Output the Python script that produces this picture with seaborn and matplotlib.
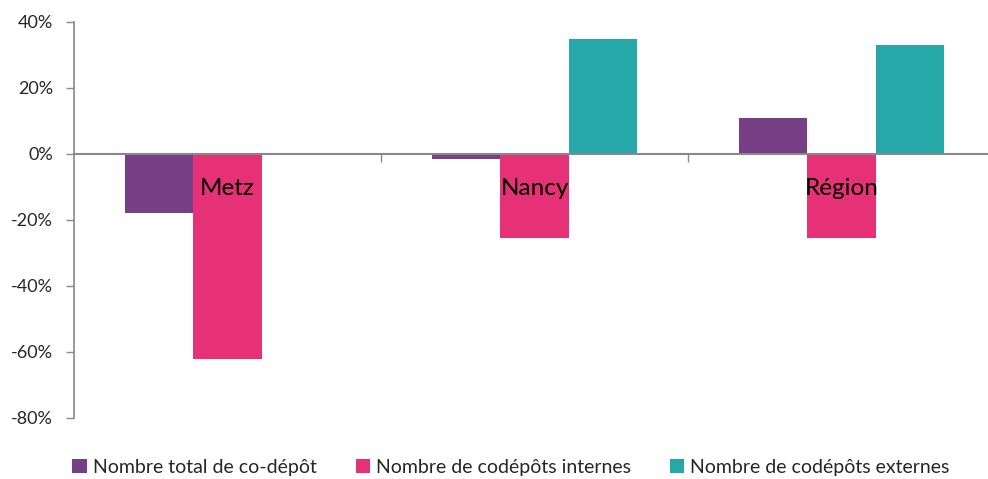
import matplotlib
matplotlib.use("Agg")
import matplotlib.pyplot as plt
import seaborn as sns
import pandas as pd
import numpy as np
from matplotlib.ticker import FuncFormatter, FixedLocator
from matplotlib.patches import Patch

categories = ["Metz", "Nancy", "Région"]
series_names = ["Nombre total de co-dépôt", "Nombre de codépôts internes", "Nombre de codépôts externes"]
total_codepot = [-18.0, -1.5, 11.0]
codepots_internes = [-62.0, -25.5, -25.5]
codepots_externes = [0.0, 35.0, 33.0]
colors = ["#763F86", "#E73177", "#26A8A8"]
y_ticks = [40, 20, 0, -20, -40, -60, -80]

rows = []
for name, vals in zip(series_names, [total_codepot, codepots_internes, codepots_externes]):
    for c, v in zip(categories, vals):
        rows.append({"cat": c, "series": name, "value": v})
df = pd.DataFrame(rows)

sns.set_style("white")
plt.rcParams["font.family"] = ["Lato", "DejaVu Sans"]

fig = plt.figure(figsize=(9.88, 4.79), dpi=100)
ax = fig.add_axes([74/988, 1-418/479, (995-74)/988, (418-22)/479])

sns.barplot(data=df, x="cat", y="value", hue="series", order=categories,
            hue_order=series_names, palette=colors, width=0.668, saturation=1,
            errorbar=None, legend=False, ax=ax, linewidth=0)

ax.set_ylim(-80, 40)
ax.set_xlim(-0.5, 2.5)
ax.yaxis.set_major_locator(FixedLocator(y_ticks))
ax.yaxis.set_major_formatter(FuncFormatter(lambda v, p: f"{int(v)}%"))
ax.tick_params(axis="y", labelsize=13, length=6, width=1, color="#898989", direction="out", pad=9, left=True)
ax.set_ylabel("")
ax.set_xlabel("")

for s in ["top", "right"]:
    ax.spines[s].set_visible(False)
ax.spines["left"].set_color("#898989")
ax.spines["bottom"].set_color("#898989")
ax.spines["left"].set_linewidth(1.2)
ax.spines["bottom"].set_linewidth(1.5)
ax.spines["bottom"].set_position(("data", 0))

ax.set_xticks([0.5, 1.5])
ax.set_xticklabels([])
ax.tick_params(axis="x", length=6, width=1, color="#898989", direction="out", bottom=True)

for i, c in enumerate(categories):
    ax.text(i, -10.5, c, ha="center", va="center", fontsize=17.5, color="black")

handles = [Patch(facecolor=col, edgecolor="none") for col in colors]
fig.legend(handles, series_names, loc="center", bbox_to_anchor=(511/988, 1-467/479), ncol=3,
           frameon=False, fontsize=14, handlelength=0.75, handleheight=0.75, handletextpad=0.3,
           columnspacing=2.0, borderaxespad=0)

fig.savefig("out.png", dpi=100)
